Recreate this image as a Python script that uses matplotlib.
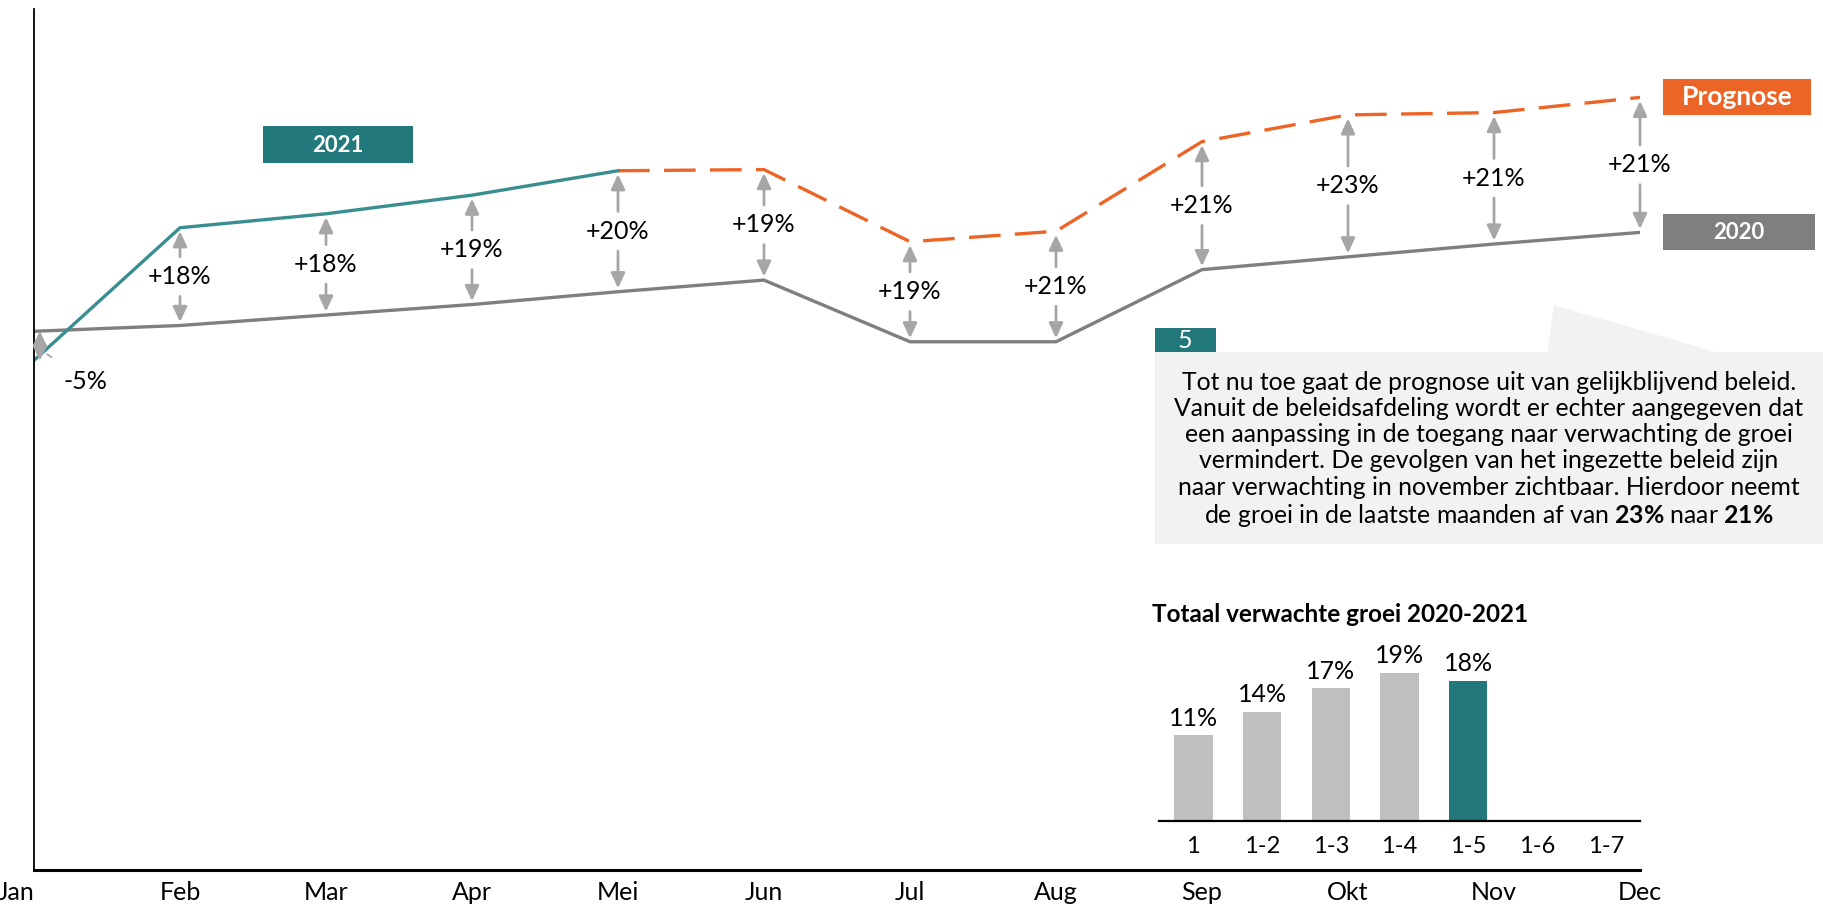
import matplotlib
matplotlib.use('Agg')
import matplotlib.pyplot as plt
from matplotlib.patches import Rectangle, Polygon
import numpy as np

plt.rcParams['font.family'] = ['Lato', 'DejaVu Sans']
plt.rcParams['mathtext.fontset'] = 'custom'
plt.rcParams['mathtext.rm'] = 'Lato'
plt.rcParams['mathtext.bf'] = 'Lato:bold'

# data
months = ['Jan', 'Feb', 'Mar', 'Apr', 'Mei', 'Jun', 'Jul', 'Aug', 'Sep', 'Okt', 'Nov', 'Dec']
vals_2020 = [463, 468, 477, 486, 497, 507, 454, 454, 516, 527, 538, 548]
vals_2021 = [438, 552, 564, 580, 601]                      # Jan..Mei
prognose = [601, 602, 540, 549, 626, 649, 651, 664]       # Mei..Dec
diff_labels = ['-5%', '+18%', '+18%', '+19%', '+20%', '+19%', '+19%', '+21%',
               '+21%', '+23%', '+21%', '+21%']

bar_cats = ['1', '1-2', '1-3', '1-4', '1-5', '1-6', '1-7']
bar_vals = [11, 14, 17, 19, 18]

callout = ("Tot nu toe gaat de prognose uit van gelijkblijvend beleid.\n"
           "Vanuit de beleidsafdeling wordt er echter aangegeven dat\n"
           "een aanpassing in de toegang naar verwachting de groei\n"
           "vermindert. De gevolgen van het ingezette beleid zijn\n"
           "naar verwachting in november zichtbaar. Hierdoor neemt\n"
           r"de groei in de laatste maanden af van $\mathbf{23\%}$ naar $\mathbf{21\%}$")

TEAL = '#22787a'
TEAL_LINE = '#3a8e90'
ORANGE = '#ed6526'
GRAY = '#7f7f7f'
ARROW = '#a6a6a6'
LIGHT = '#bfbfbf'
BOX = '#f2f2f2'

W, H = 1824, 909
fig = plt.figure(figsize=(W / 100, H / 100), dpi=100)


def fx(x):
    return x / W


def fy(y):
    # pixel from top -> figure fraction
    return 1 - y / H


def rect(x0, y0, x1, y1, color):
    fig.add_artist(Rectangle((fx(x0), fy(y1)), fx(x1 - x0), (y1 - y0) / H,
                             transform=fig.transFigure, color=color, lw=0))


ax = fig.add_axes([fx(34), 39 / H, fx(1640 - 34), (870 - 9) / H])
ax.patch.set_alpha(0)
x = np.arange(len(months))

ax.plot(x, vals_2020, color=GRAY, lw=2.4)
ax.plot(x[len(vals_2021) - 1:], prognose, color=ORANGE, lw=2.4, dashes=(9.5, 4.3))
ax.plot(x[:len(vals_2021)], vals_2021, color=TEAL_LINE, lw=2.4)
ax.set_xlim(0, 11)
ax.set_ylim(0, 740)

# difference arrows
top_series = vals_2021[:-1] + prognose
for i in range(1, len(months)):
    top = top_series[i]
    bot = vals_2020[i]
    mid = (top + bot) / 2
    ap = dict(arrowstyle='-|>,head_length=0.9,head_width=0.42', color=ARROW,
              lw=2, shrinkA=0, shrinkB=0)
    ax.annotate('', xy=(i, top - 3), xytext=(i, mid + 17), arrowprops=ap)
    ax.annotate('', xy=(i, bot + 3), xytext=(i, mid - 17), arrowprops=ap)
    ax.text(i, mid, diff_labels[i], ha='center', va='center', fontsize=18)

# january
ax.annotate('', xy=(0.04, vals_2021[0]), xytext=(0.04, vals_2020[0]),
            arrowprops=dict(arrowstyle='<|-|>,head_length=0.8,head_width=0.4',
                            color=ARROW, lw=2, shrinkA=0, shrinkB=0))
ax.annotate(diff_labels[0], xy=(0.06, 446), xytext=(0.35, 420),
            ha='center', va='center', fontsize=18,
            arrowprops=dict(arrowstyle='-', color=ARROW, lw=1.3, ls=(0, (3, 3)),
                            shrinkA=12, shrinkB=0))

for s in ['top', 'right']:
    ax.spines[s].set_visible(False)
ax.spines['left'].set_linewidth(1.3)
ax.spines['bottom'].set_linewidth(2.2)
ax.set_yticks([])
ax.set_xticks(x, months)
ax.tick_params(axis='x', length=0, pad=8, labelsize=18)
ax.get_xticklabels()[0].set_ha('right')

# series label boxes
y_prog = ax.transData.transform((11, prognose[-1]))[1]
y_2020 = ax.transData.transform((11, vals_2020[-1]))[1]
yp = H - y_prog
y0 = H - y_2020
rect(1663, yp - 18, 1811, yp + 18, ORANGE)
fig.text(fx(1737), fy(yp), 'Prognose', color='white', fontsize=19, fontweight='bold',
         ha='center', va='center')
rect(1663, y0 - 18, 1815, y0 + 18, GRAY)
fig.text(fx(1739), fy(y0), '2020', color='white', fontsize=16, fontweight='bold',
         ha='center', va='center')
rect(263, 126, 413, 163, TEAL)
fig.text(fx(338), fy(145), '2021', color='white', fontsize=16, fontweight='bold',
         ha='center', va='center')

# callout
fig.add_artist(Polygon([(fx(1547), fy(353)), (fx(1554), fy(305)), (fx(1719), fy(353))],
                       closed=True, transform=fig.transFigure, color=BOX, lw=0))
rect(1155, 352, 1824, 544, BOX)
rect(1155, 328, 1216, 352, TEAL)
fig.text(fx(1185), fy(340), '5', color='white', fontsize=18, ha='center', va='center')
fig.text(fx(1489), fy(450), callout, ha='center', va='center', fontsize=17.8,
         linespacing=1.17)

# inset bar chart
iax = fig.add_axes([fx(1159), 88 / H, fx(1640 - 1159), 195 / H])
iax.patch.set_alpha(0)
bx = np.arange(len(bar_cats))
colors = [LIGHT] * (len(bar_vals) - 1) + [TEAL]
iax.bar(bx[:len(bar_vals)], bar_vals, width=0.56, color=colors)
for i, v in enumerate(bar_vals):
    iax.annotate(f'{v}%', (i, v), xytext=(0, 4), textcoords='offset points',
                 ha='center', va='bottom', fontsize=18)
iax.set_xlim(-0.5, 6.5)
iax.set_ylim(0, 25)
iax.set_xticks(bx, bar_cats)
iax.set_yticks([])
for s in ['top', 'right', 'left']:
    iax.spines[s].set_visible(False)
iax.spines['bottom'].set_linewidth(1.6)
iax.tick_params(axis='x', length=0, pad=11, labelsize=17)
fig.text(fx(1152), fy(614), 'Totaal verwachte groei 2020-2021', fontsize=17.5,
         fontweight='bold', va='center', ha='left')

fig.savefig('out.png', dpi=100)
